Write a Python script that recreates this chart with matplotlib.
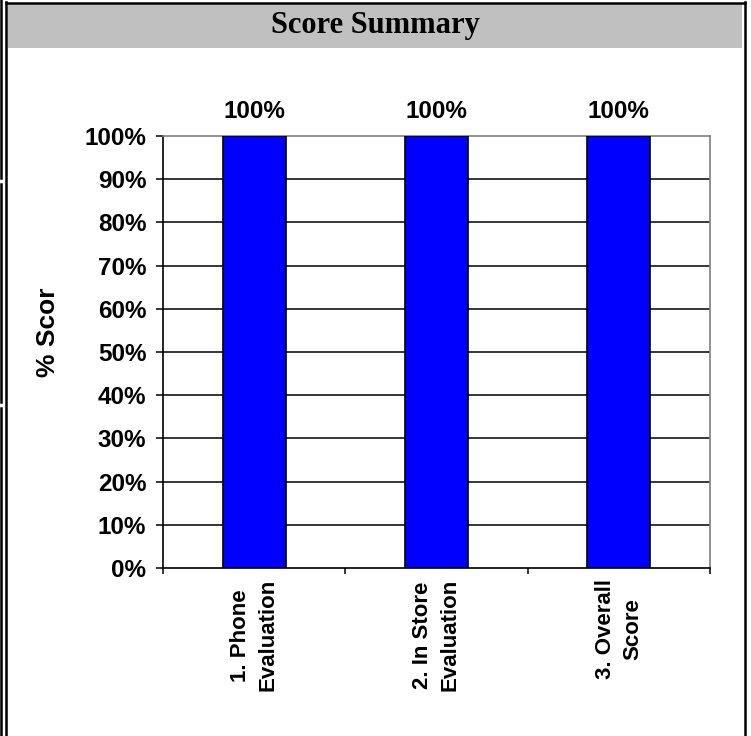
import matplotlib
matplotlib.use("Agg")
import matplotlib.pyplot as plt
from matplotlib.lines import Line2D
from matplotlib.patches import Rectangle

categories = ["1. Phone\nEvaluation", "2. In Store\nEvaluation", "3. Overall\nScore"]
scores = [1.0, 1.0, 1.0]
bar_labels = ["100%", "100%", "100%"]
yticks = [0.0, 0.1, 0.2, 0.3, 0.4, 0.5, 0.6, 0.7, 0.8, 0.9, 1.0]
ytick_labels = ["0%", "10%", "20%", "30%", "40%", "50%", "60%", "70%", "80%", "90%", "100%"]
title = "Score Summary"
ylabel = "% Scor"

W, H = 751, 736
fig = plt.figure(figsize=(W / 100, H / 100), dpi=100)
fig.patch.set_facecolor("white")

def fx(px):
    return px / W

def fy(py):
    return 1 - py / H

sans = "Liberation Sans"
serif = "Liberation Serif"

# Title bar and frame
fig.patches.append(Rectangle((fx(7.5), fy(47.5)), fx(742) - fx(7.5), fy(4) - fy(47.5),
                             transform=fig.transFigure, facecolor="#c0c0c0", edgecolor="none", zorder=0))
lw_frame = 1.8
fig.lines.append(Line2D([fx(6.5), fx(744.5)], [fy(3), fy(3)], transform=fig.transFigure, color="black", lw=lw_frame))
fig.lines.append(Line2D([fx(6.5), fx(6.5)], [fy(2.2), fy(740)], transform=fig.transFigure, color="black", lw=lw_frame))
fig.lines.append(Line2D([fx(744.5), fx(744.5)], [fy(2.2), fy(740)], transform=fig.transFigure, color="black", lw=lw_frame))
for y0, y1 in [(0, 178), (184, 402), (408, 740)]:
    fig.lines.append(Line2D([fx(1.2), fx(1.2)], [fy(y0), fy(y1)], transform=fig.transFigure, color="black", lw=lw_frame))

fig.text(fx(375), fy(33), title, ha="center", va="baseline", fontsize=22,
         fontweight="bold", family=serif)

# Axes
left, right, top, bottom = 163, 710, 136, 568
ax = fig.add_axes([fx(left), fy(bottom), fx(right) - fx(left), fy(top) - fy(bottom)])
ax.set_facecolor("white")
x = [0.5, 1.5, 2.5]
ax.bar(x, scores, width=0.345, color="#0000ff", edgecolor="black", linewidth=1.2, zorder=3)
ax.set_xlim(0, 3)
ax.set_ylim(0, 1)

for t in yticks[1:-1]:
    ax.axhline(t, color="black", lw=1.1, zorder=1)

for s in ["left", "bottom"]:
    ax.spines[s].set_color("black")
    ax.spines[s].set_linewidth(1.2)
for s in ["top", "right"]:
    ax.spines[s].set_color("#808080")
    ax.spines[s].set_linewidth(1.2)

ax.set_yticks(yticks)
ax.set_yticklabels(ytick_labels, fontsize=17.5, fontweight="bold", family=sans)
ax.tick_params(axis="y", direction="out", length=5, width=1.1, pad=7)

ax.set_xticks([0, 1, 2, 3])
ax.set_xticklabels([])
ax.tick_params(axis="x", which="major", direction="out", length=4.5, width=1.1)
ax.set_xticks(x, minor=True)
ax.set_xticklabels(categories, minor=True, rotation=90, fontsize=16, fontweight="bold",
                   family=sans, va="top", ha="center", multialignment="center",
                   linespacing=1.4)
ax.tick_params(axis="x", which="minor", length=0, pad=8)

for xi, v, lab in zip(x, scores, bar_labels):
    ax.annotate(lab, (xi, v), xytext=(0, 13), textcoords="offset points",
                ha="center", va="baseline", fontsize=17.5, fontweight="bold", family=sans,
                annotation_clip=False)

fig.text(fx(48), fy(332), ylabel, rotation=90, ha="center", va="center",
         fontsize=19, fontweight="bold", family=sans)

fig.savefig("out.png", dpi=100)
